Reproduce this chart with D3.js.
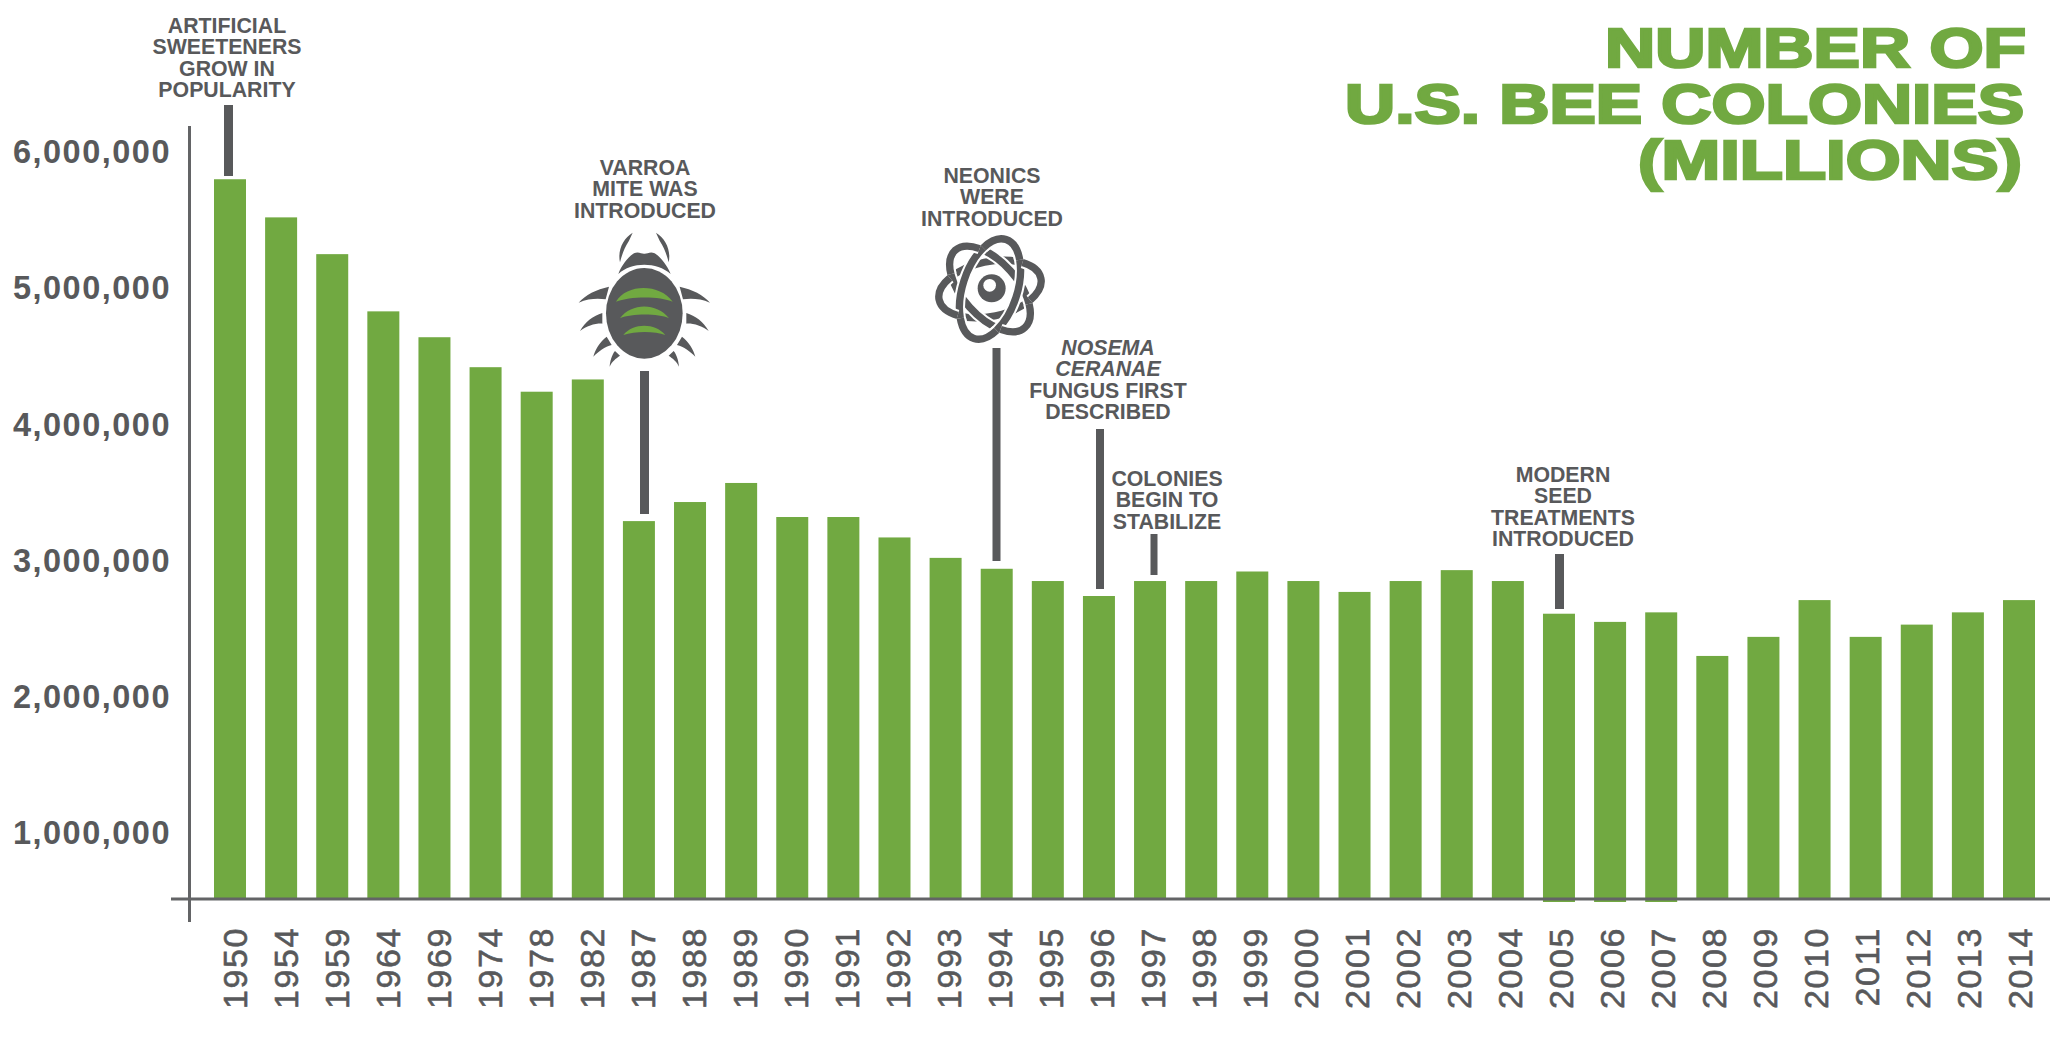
<!DOCTYPE html>
<html>
<head>
<meta charset="utf-8">
<script src="https://d3js.org/d3.v7.min.js"></script>
<style>
  html, body { margin: 0; padding: 0; background: #fff; }
  text { font-family: "Liberation Sans", Arial, sans-serif; }
</style>
</head>
<body>
<div id="drawing"></div>
<script>
// the numbers
const years = [1950, 1954, 1959, 1964, 1969, 1974, 1978, 1982, 1987, 1988, 1989, 1990,
  1991, 1992, 1993, 1994, 1995, 1996, 1997, 1998, 1999, 2000, 2001, 2002, 2003, 2004,
  2005, 2006, 2007, 2008, 2009, 2010, 2011, 2012, 2013, 2014];
const colonies = [5800000, 5520000, 5250000, 4830000, 4640000, 4420000, 4240000, 4330000,
  3290000, 3430000, 3570000, 3320000, 3320000, 3170000, 3020000, 2940000, 2850000, 2740000,
  2850000, 2850000, 2920000, 2850000, 2770000, 2850000, 2930000, 2850000, 2610000, 2550000,
  2620000, 2300000, 2440000, 2710000, 2440000, 2530000, 2620000, 2710000];
const yTicks = [1000000, 2000000, 3000000, 4000000, 5000000, 6000000];
const titleLines = ["NUMBER OF", "U.S. BEE COLONIES", "(MILLIONS)"];

// the three bars that poke out under the axis in the original
const overhangYears = [2005, 2006, 2007];

const calloutYears = [1950, 1987, 1994, 1996, 1997, 2005];
const calloutTexts = [
  ["ARTIFICIAL", "SWEETENERS", "GROW IN", "POPULARITY"],
  ["VARROA", "MITE WAS", "INTRODUCED"],
  ["NEONICS", "WERE", "INTRODUCED"],
  ["NOSEMA", "CERANAE", "FUNGUS FIRST", "DESCRIBED"],
  ["COLONIES", "BEGIN TO", "STABILIZE"],
  ["MODERN", "SEED", "TREATMENTS", "INTRODUCED"]
];
const italicLines = ["NOSEMA", "CERANAE"];

// layout
const width = 2050;
const height = 1040;
const green = "#71a941";
const grey = "#58595b";
const axisGrey = "#636466";
const baseY = 899;

// where each callout sits: text centre, first baseline, stem
const calloutLayout = [
  {cx: 227, first: 33, stemX: 228.5, stemW: 9, stemTop: 105, stemBottom: 176},
  {cx: 645, first: 175, stemX: 644.5, stemW: 9, stemTop: 371, stemBottom: 514},
  {cx: 992, first: 183, stemX: 996.5, stemW: 8, stemTop: 348, stemBottom: 561},
  {cx: 1108, first: 355, stemX: 1100, stemW: 8, stemTop: 429, stemBottom: 589},
  {cx: 1167, first: 486, stemX: 1154, stemW: 7, stemTop: 534, stemBottom: 575},
  {cx: 1563, first: 482, stemX: 1559.5, stemW: 9, stemTop: 554, stemBottom: 609}
];

let drawing;
let xScale;
let labelScale;
let yScale;

function setup(){
  drawing = d3.select("#drawing").append("svg")
    .attr("width", width)
    .attr("height", height)
    .style("display", "block")
    .style("background", "#fff");

  xScale = d3.scaleBand().domain(years).range([214, 2035]).paddingInner(0.374).paddingOuter(0);
  // the year labels don't sit quite centred on the bars in the original
  labelScale = d3.scalePoint().domain(years).range([234, 2019]);
  // 6M sits at y=152, 1M at y=833
  yScale = d3.scaleLinear().domain([1000000, 6000000]).range([833, 152]);
}

function makeBars(){
  drawing.append("g").selectAll(".bar")
    .data(years)
    .enter()
    .append("rect")
      .attr("class", "bar")
      .attr("x", (d) => xScale(d))
      .attr("y", (d, i) => yScale(colonies[i]))
      .attr("width", xScale.bandwidth())
      .attr("height", (d, i) => baseY - yScale(colonies[i]) + (overhangYears.includes(d) ? 3 : 0))
      .style("fill", green);
}

function makeAxes(){
  const left = drawing.append("g")
    .attr("transform", "translate(171,-1)")
    .call(d3.axisLeft(yScale).tickValues(yTicks).tickFormat(d3.format(",")).tickSize(0).tickPadding(0));
  left.select(".domain").remove();
  left.selectAll("text")
    .attr("dy", "0.36em")
    .style("font-family", "Liberation Sans")
    .style("font-size", "32.5px")
    .style("font-weight", "bold")
    .style("letter-spacing", "1.5px")
    .style("fill", grey);

  const bottom = drawing.append("g")
    .attr("transform", `translate(0,${baseY})`)
    .call(d3.axisBottom(labelScale).tickSize(0));
  bottom.select(".domain").remove();
  bottom.selectAll("text")
    .attr("transform", "rotate(-90)")
    .attr("text-anchor", "end")
    .attr("x", -28)
    .attr("y", 0)
    .attr("dy", "0.36em")
    .style("font-family", "Liberation Sans")
    .style("font-size", "34px")
    .style("letter-spacing", "1.6px")
    .style("fill", grey)
    .style("stroke", grey)
    .style("stroke-width", 0.6);

  // axis lines cross at the corner
  drawing.append("line")
    .attr("x1", 171).attr("x2", width)
    .attr("y1", baseY).attr("y2", baseY)
    .style("stroke", axisGrey).style("stroke-width", 3);
  drawing.append("line")
    .attr("x1", 189.5).attr("x2", 189.5)
    .attr("y1", 126).attr("y2", 922)
    .style("stroke", axisGrey).style("stroke-width", 3);
}

function makeTitle(){
  const titleRight = [2026, 2024, 2022];
  const titleLeft = [1605, 1345, 1638];
  const titleBase = [67, 123, 179];
  drawing.append("g").selectAll("text")
    .data(titleLines)
    .enter()
    .append("text")
      .attr("x", (d, i) => titleLeft[i])
      .attr("y", (d, i) => titleBase[i])
      .attr("textLength", (d, i) => titleRight[i] - titleLeft[i])
      .attr("lengthAdjust", "spacingAndGlyphs")
      .text((d) => d)
      .style("font-size", "55px")
      .style("font-weight", "bold")
      .style("fill", green)
      .style("stroke", green)
      .style("stroke-width", 2.6);
}

function makeCallouts(){
  calloutYears.forEach((year, i) => {
    const pos = calloutLayout[i];
    const group = drawing.append("g").attr("class", `callout-${year}`);
    group.selectAll("text")
      .data(calloutTexts[i])
      .enter()
      .append("text")
        .attr("x", pos.cx)
        .attr("y", (d, j) => pos.first + j * 21.3)
        .attr("text-anchor", "middle")
        .text((d) => d)
        .style("font-size", "21.3px")
        .style("font-weight", "bold")
        .style("font-style", (d) => italicLines.includes(d) ? "italic" : "normal")
        .style("fill", grey);
    group.append("rect")
      .attr("x", pos.stemX - pos.stemW / 2)
      .attr("y", pos.stemTop)
      .attr("width", pos.stemW)
      .attr("height", pos.stemBottom - pos.stemTop)
      .style("fill", grey);
  });
}

// icons are traced by hand at 3x, hence the scale(1/3)
function makeMite(){
  const mite = drawing.append("g")
    .attr("transform", "translate(560,150) scale(0.3333)");
  const halves = [mite.append("g"), mite.append("g").attr("transform", "translate(506,0) scale(-1,1)")];
  const legs = [
    "M218,248 C190,265 172,300 180,337 C186,315 192,295 207,272 Z",
    "M147,410 C110,418 75,435 56,458 C85,445 115,445 137,448 Z",
    "M127,489 C100,497 75,515 60,543 C80,528 105,520 127,521 Z",
    "M140,560 C120,575 105,600 100,620 C115,605 135,590 155,585 Z",
    "M165,603 C155,615 150,635 149,650 C155,635 168,625 180,617 Z"
  ];
  halves.forEach((half) => {
    half.selectAll("path").data(legs).enter().append("path")
      .attr("d", (d) => d)
      .style("fill", grey);
  });
  mite.append("path")
    .attr("d", "M175,372 C185,345 205,320 222,310 C235,303 245,312 253,311 C261,312 271,303 284,310 C301,320 321,345 332,372 C290,335 215,335 175,372 Z")
    .style("fill", grey);
  mite.append("ellipse")
    .attr("cx", 253).attr("cy", 490)
    .attr("rx", 115).attr("ry", 136)
    .style("fill", grey);
  const stripes = [
    "M168,455 C200,400 300,400 338,455 C300,438 210,438 168,455 Z",
    "M180,505 C215,458 290,458 327,505 C295,490 215,490 180,505 Z",
    "M190,555 C220,518 285,518 316,555 C285,543 225,543 190,555 Z"
  ];
  mite.selectAll(".stripe").data(stripes).enter().append("path")
    .attr("class", "stripe")
    .attr("d", (d) => d)
    .style("fill", green);
}

function makeAtom(){
  const atom = drawing.append("g")
    .attr("transform", "translate(900,150) scale(0.3333)");
  const tilts = [-12, 48, 108];
  const orbit = (tilt, dash, offset) => {
    const g = atom.append("g").attr("transform", `translate(270,417) rotate(${tilt})`);
    [["#fff", 34], [grey, 22]].forEach(([colour, thick]) => {
      g.append("ellipse")
        .attr("rx", 156).attr("ry", 82)
        .attr("pathLength", 100)
        .style("fill", "none")
        .style("stroke", colour)
        .style("stroke-width", thick)
        .style("stroke-dasharray", dash)
        .style("stroke-dashoffset", offset);
    });
  };
  tilts.forEach((tilt) => orbit(tilt, "none", 0));
  // the ends of each ring go back on top so the rings look woven
  tilts.forEach((tilt) => orbit(tilt, "20 30", 10));
  atom.append("circle")
    .attr("cx", 275).attr("cy", 415).attr("r", 42)
    .style("fill", grey);
  atom.append("circle")
    .attr("cx", 269).attr("cy", 406).attr("r", 19)
    .style("fill", "#fff");
}

setup();
makeBars();
makeAxes();
makeTitle();
makeCallouts();
makeMite();
makeAtom();
</script>
</body>
</html>
